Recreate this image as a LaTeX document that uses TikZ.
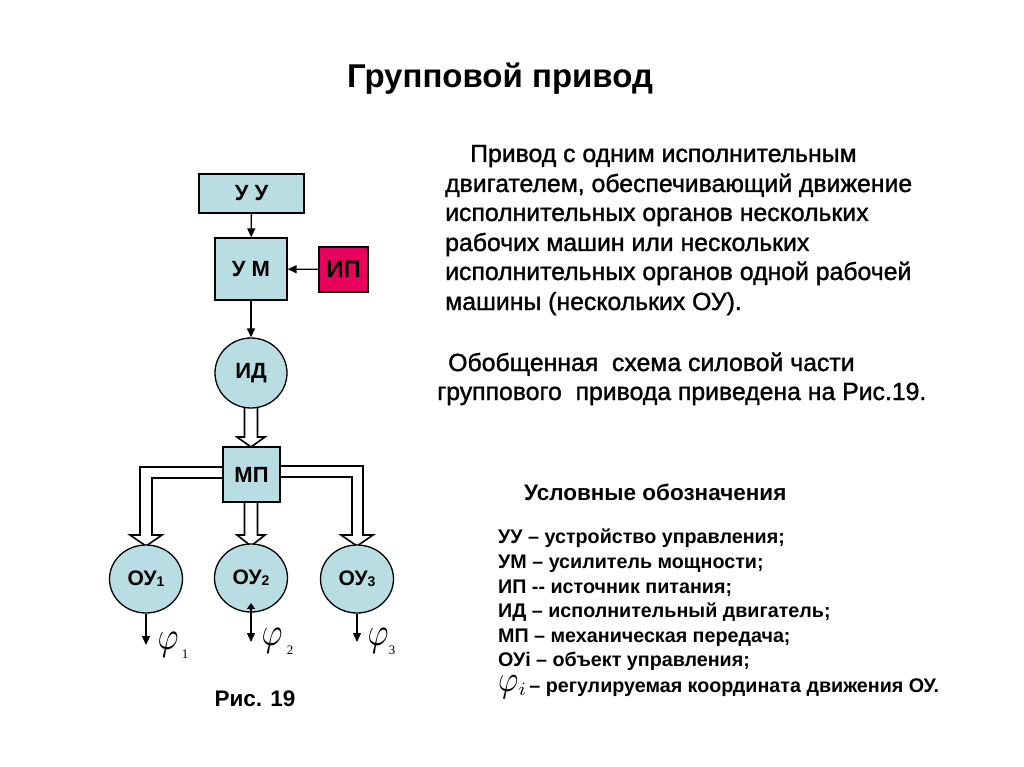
\documentclass[tikz,border=0pt]{standalone}
\usepackage{fontspec}
\setmainfont{Liberation Sans}
\newfontfamily\medfont[FakeBold=1.3]{Liberation Sans}
\usetikzlibrary{arrows.meta,shapes.geometric}
\definecolor{boxblue}{RGB}{184,221,226}
\definecolor{ipred}{RGB}{232,0,92}
\newcommand{\fs}[1]{\fontsize{#1}{#1}\selectfont}
\newcommand{\bigphi}{{\fs{10}\scalebox{3.2}[4]{$\varphi$}}}
\newcommand{\legphi}{{\fs{10}\scalebox{3.1}[3.7]{$\varphi$}}}
\begin{document}
\begin{tikzpicture}[x=1pt,y=-1pt,
  blk/.style={draw=black,line width=1.3pt,fill=boxblue,font=\bfseries\fs{22},inner sep=0pt},
  circ/.style={ellipse,draw=black,line width=1.3pt,fill=boxblue,font=\bfseries\fs{21},inner sep=0pt,minimum width=73pt,minimum height=68pt},
  conn/.style={line width=1.3pt,-{Triangle[length=9pt,width=8pt]}},
  hollow/.style={draw=black,line width=1.6pt,fill=white,line join=miter},
  para/.style={anchor=base west,inner sep=0pt,font=\medfont\fs{24.8}},
  leg/.style={anchor=base west,inner sep=0pt,font=\bfseries\fs{19.7}},
  phi/.style={inner sep=0pt},
  phisub/.style={inner sep=0pt,font=\fontspec{Liberation Serif}\fs{13}}
]
\useasboundingbox (0,0) rectangle (1024,767);
\fill[white] (0,0) rectangle (1024,767);

% title
\node[anchor=base,inner sep=0pt,font=\bfseries\fs{33}] (title) at (500,88) {Групповой привод};

% hollow arrows (drawn first, covered by blocks)
\draw[hollow] (244.5,395) -- (244.5,437) -- (237,437) -- (251,447) -- (265,437) -- (257.5,437) -- (257.5,395);
\draw[hollow] (240,467) -- (140,467) -- (140,535) -- (130,535) -- (146,546) -- (162,535) -- (152,535) -- (152,478) -- (240,478);
\draw[hollow] (260,466) -- (363,466) -- (363,535) -- (373,535) -- (357,546) -- (341,535) -- (352,535) -- (352,477) -- (260,477);
\draw[hollow] (244.5,490) -- (244.5,535) -- (237,535) -- (251,546) -- (265,535) -- (257.5,535) -- (257.5,490);

% blocks
\node[blk,minimum width=105pt,minimum height=39pt] (uu) at (251.5,193.5) {У У};
\node[blk,minimum width=72pt,minimum height=62pt] (um) at (251,269) {У М};
\node[blk,fill=ipred,minimum width=49pt,minimum height=45pt,font=\bfseries\fs{24}] (ip) at (343.5,269.5) {ИП};
\node[circ,minimum width=72pt,minimum height=70pt,font=\bfseries\fs{22}] (id) at (251,373) {ИД};
\node[blk,minimum width=57pt,minimum height=55pt] (mp) at (251.5,474.5) {МП};
\node[circ] (ou1) at (146,579) {ОУ\raisebox{-1pt}{\fs{14}1}};
\node[circ] (ou2) at (251,578) {ОУ\raisebox{-1pt}{\fs{14}2}};
\node[circ] (ou3) at (357,579) {ОУ\raisebox{-1pt}{\fs{14}3}};

% connectors
\draw[conn] (uu) -- (um);
\draw[conn] (ip) -- (um);
\draw[conn] (um) -- (id);
\coordinate (o1) at (146,645);
\coordinate (o2) at (251,642);
\coordinate (o3) at (357,642);
\coordinate (s2) at (251,603);
\draw[conn] (ou1.south) -- (o1);
\draw[conn] (ou3.south) -- (o3);
\draw[line width=1.3pt,{Triangle[length=6pt,width=8pt]}-{Triangle[length=9pt,width=8pt]}] (s2) -- (o2);

% phi labels
\node[phi] (f1) at (168,645) {\bigphi};
\node[phisub] (f1s) at (185,654) {1};
\node[phi] (f2) at (272,641) {\bigphi};
\node[phisub] (f2s) at (290,650) {2};
\node[phi] (f3) at (378,641) {\bigphi};
\node[phisub] (f3s) at (392,650) {3};

\node[anchor=base,inner sep=0pt,font=\bfseries\fs{22.5}] (fig) at (255,706) {Рис. 19};

% right text
\node[para] (p1) at (470,162) {Привод с одним исполнительным};
\node[para] (p2) at (445,192) {двигателем, обеспечивающий движение};
\node[para] (p3) at (445,221) {исполнительных органов нескольких};
\node[para] (p4) at (445,251) {рабочих машин или нескольких};
\node[para] (p5) at (445,280) {исполнительных органов одной рабочей};
\node[para] (p6) at (445,310) {машины (нескольких ОУ).};
\node[para] (q1) at (448,371) {Обобщенная\ \ схема силовой части};
\node[para] (q2) at (437,400) {группового\ \ привода приведена на Рис.19.};

\node[anchor=base west,inner sep=0pt,font=\bfseries\fs{22.5}] (lt) at (524,500) {Условные обозначения};
\node[leg] (l1) at (498,543) {УУ – устройство управления;};
\node[leg] (l2) at (498,568) {УМ – усилитель мощности;};
\node[leg] (l3) at (498,593) {ИП -{}- источник питания;};
\node[leg] (l4) at (498,617) {ИД – исполнительный двигатель;};
\node[leg] (l5) at (498,642) {МП – механическая передача;};
\node[leg] (l6) at (498,666) {ОУi – объект управления;};
\node[leg] (l7) at (498,692) {\raisebox{1pt}{\legphi}\raisebox{-3pt}{\fs{10}\scalebox{2.7}{$\scriptstyle i$}}\,– регулируемая координата движения ОУ.};
\end{tikzpicture}
\end{document}
